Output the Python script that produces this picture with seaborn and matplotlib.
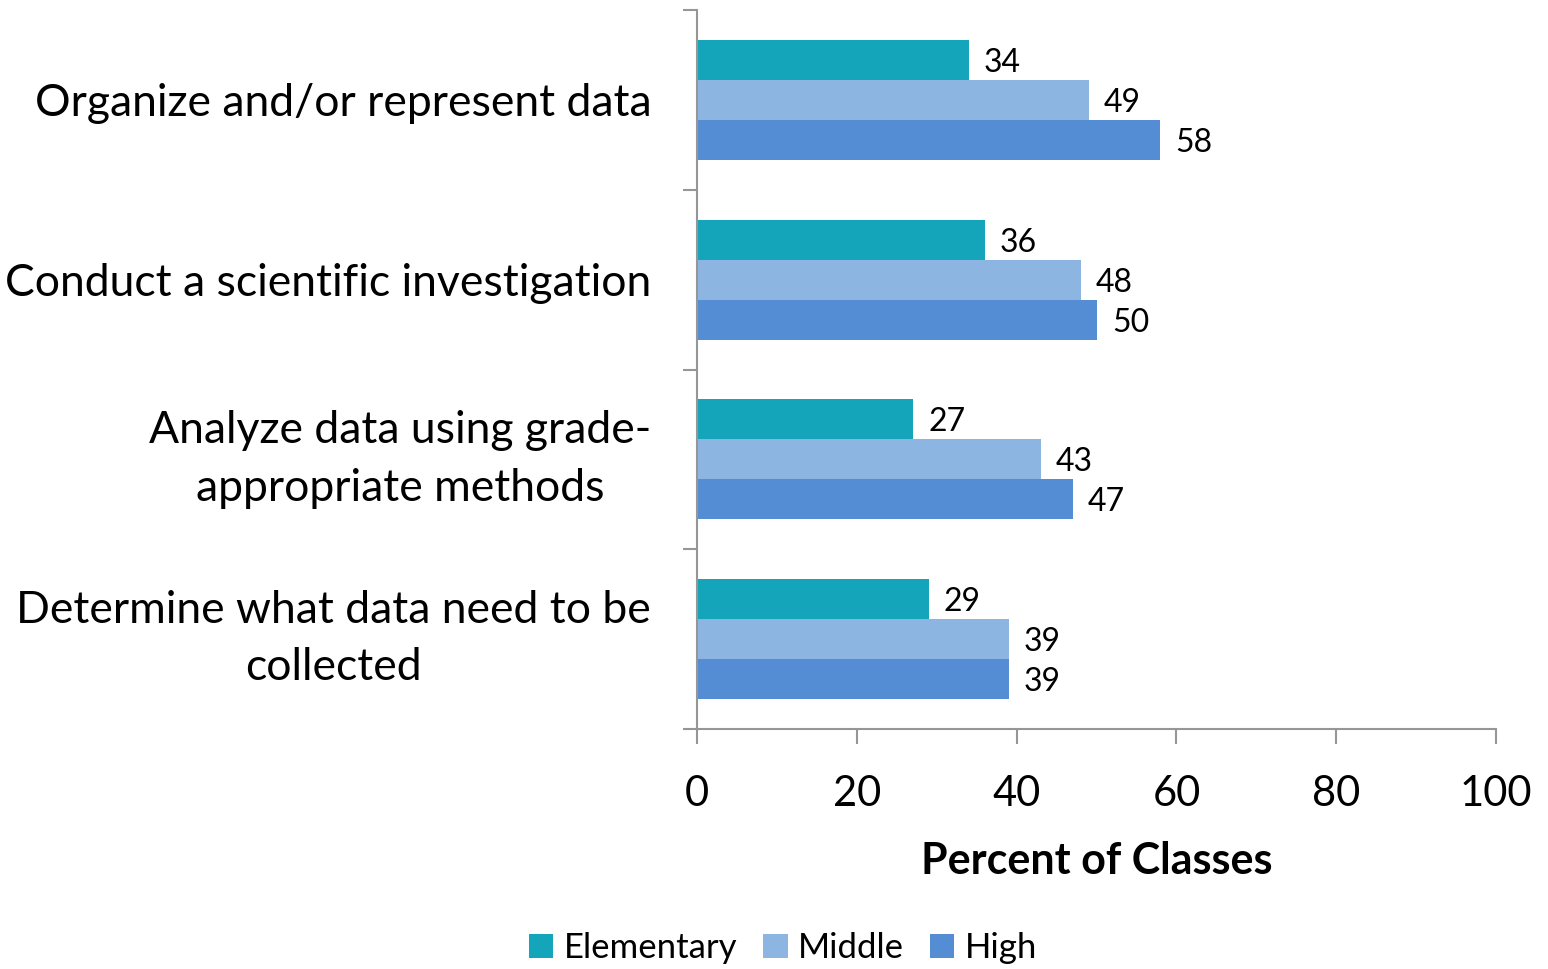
import pandas as pd
import matplotlib.pyplot as plt
import seaborn as sns
from matplotlib.ticker import FixedLocator

# --- data ---
categories = [
    "Organize and/or represent data",
    "Conduct a scientific investigation",
    "Analyze data using grade-\nappropriate methods",
    "Determine what data need to be\ncollected",
]
levels = ["Elementary", "Middle", "High"]
elementary = [34, 36, 27, 29]
middle = [49, 48, 43, 39]
high = [58, 50, 47, 39]

df = pd.DataFrame({
    "Activity": categories * 3,
    "Level": [lv for lv in levels for _ in categories],
    "Percent": elementary + middle + high,
})

palette = {"Elementary": "#14A5BA", "Middle": "#8DB5E2", "High": "#548DD4"}

sns.set_style("white")
plt.rcParams["font.family"] = ["Lato", "DejaVu Sans"]
plt.rcParams["text.color"] = "black"
plt.rcParams["xtick.color"] = "black"
plt.rcParams["ytick.color"] = "black"
plt.rcParams["axes.labelcolor"] = "black"

fig = plt.figure(figsize=(15.48, 9.69), dpi=100, facecolor="white")
ax = fig.add_axes([697 / 1548, 1 - 729 / 969, (1496 - 697) / 1548, (729 - 10) / 969])

sns.barplot(data=df, x="Percent", y="Activity", hue="Level", palette=palette,
            orient="h", width=2 / 3, saturation=1, edgecolor="none",
            legend=True, ax=ax)

ax.set_xlim(0, 100)
ax.set_ylim(3.5, -0.5)
ax.set_xticks([0, 20, 40, 60, 80, 100])

# bar value labels
for cont in ax.containers:
    labs = ax.bar_label(cont, fmt="%d", padding=11, fontsize=23, color="black")
    for t in labs:
        t.set_va("center_baseline")

# spines / ticks
for s in ["top", "right"]:
    ax.spines[s].set_visible(False)
for s in ["left", "bottom"]:
    ax.spines[s].set_color("#969696")
    ax.spines[s].set_linewidth(1.5)

ax.yaxis.set_minor_locator(FixedLocator([-0.5, 0.5, 1.5, 2.5, 3.5]))
ax.tick_params(axis="y", which="major", length=0, pad=33, labelsize=32,
               labelcolor="black")
ax.tick_params(axis="y", which="minor", length=10, width=1.5, color="#969696", left=True)
ax.tick_params(axis="x", which="major", length=11, width=1.5, color="#969696",
               bottom=True, pad=22, labelsize=30, labelcolor="black")
for lab in ax.get_yticklabels():
    lab.set_horizontalalignment("right")
    multi = "\n" in lab.get_text()
    lab.set_verticalalignment("center" if multi else "center_baseline")
    lab.set_multialignment("center")
    lab.set_linespacing(1.5)

ax.set_ylabel("")
ax.set_xlabel("Percent of Classes", fontsize=31, fontweight="bold", labelpad=20,
              color="black")

ax.legend(loc="center", bbox_to_anchor=(783 / 1548, 1 - 948 / 969),
          bbox_transform=fig.transFigure, ncol=3, frameon=False, fontsize=25,
          handlelength=0.7, handleheight=0.7, handletextpad=0.3, columnspacing=0.75)

fig.savefig("out.png", dpi=100, facecolor="white")
plt.close(fig)
